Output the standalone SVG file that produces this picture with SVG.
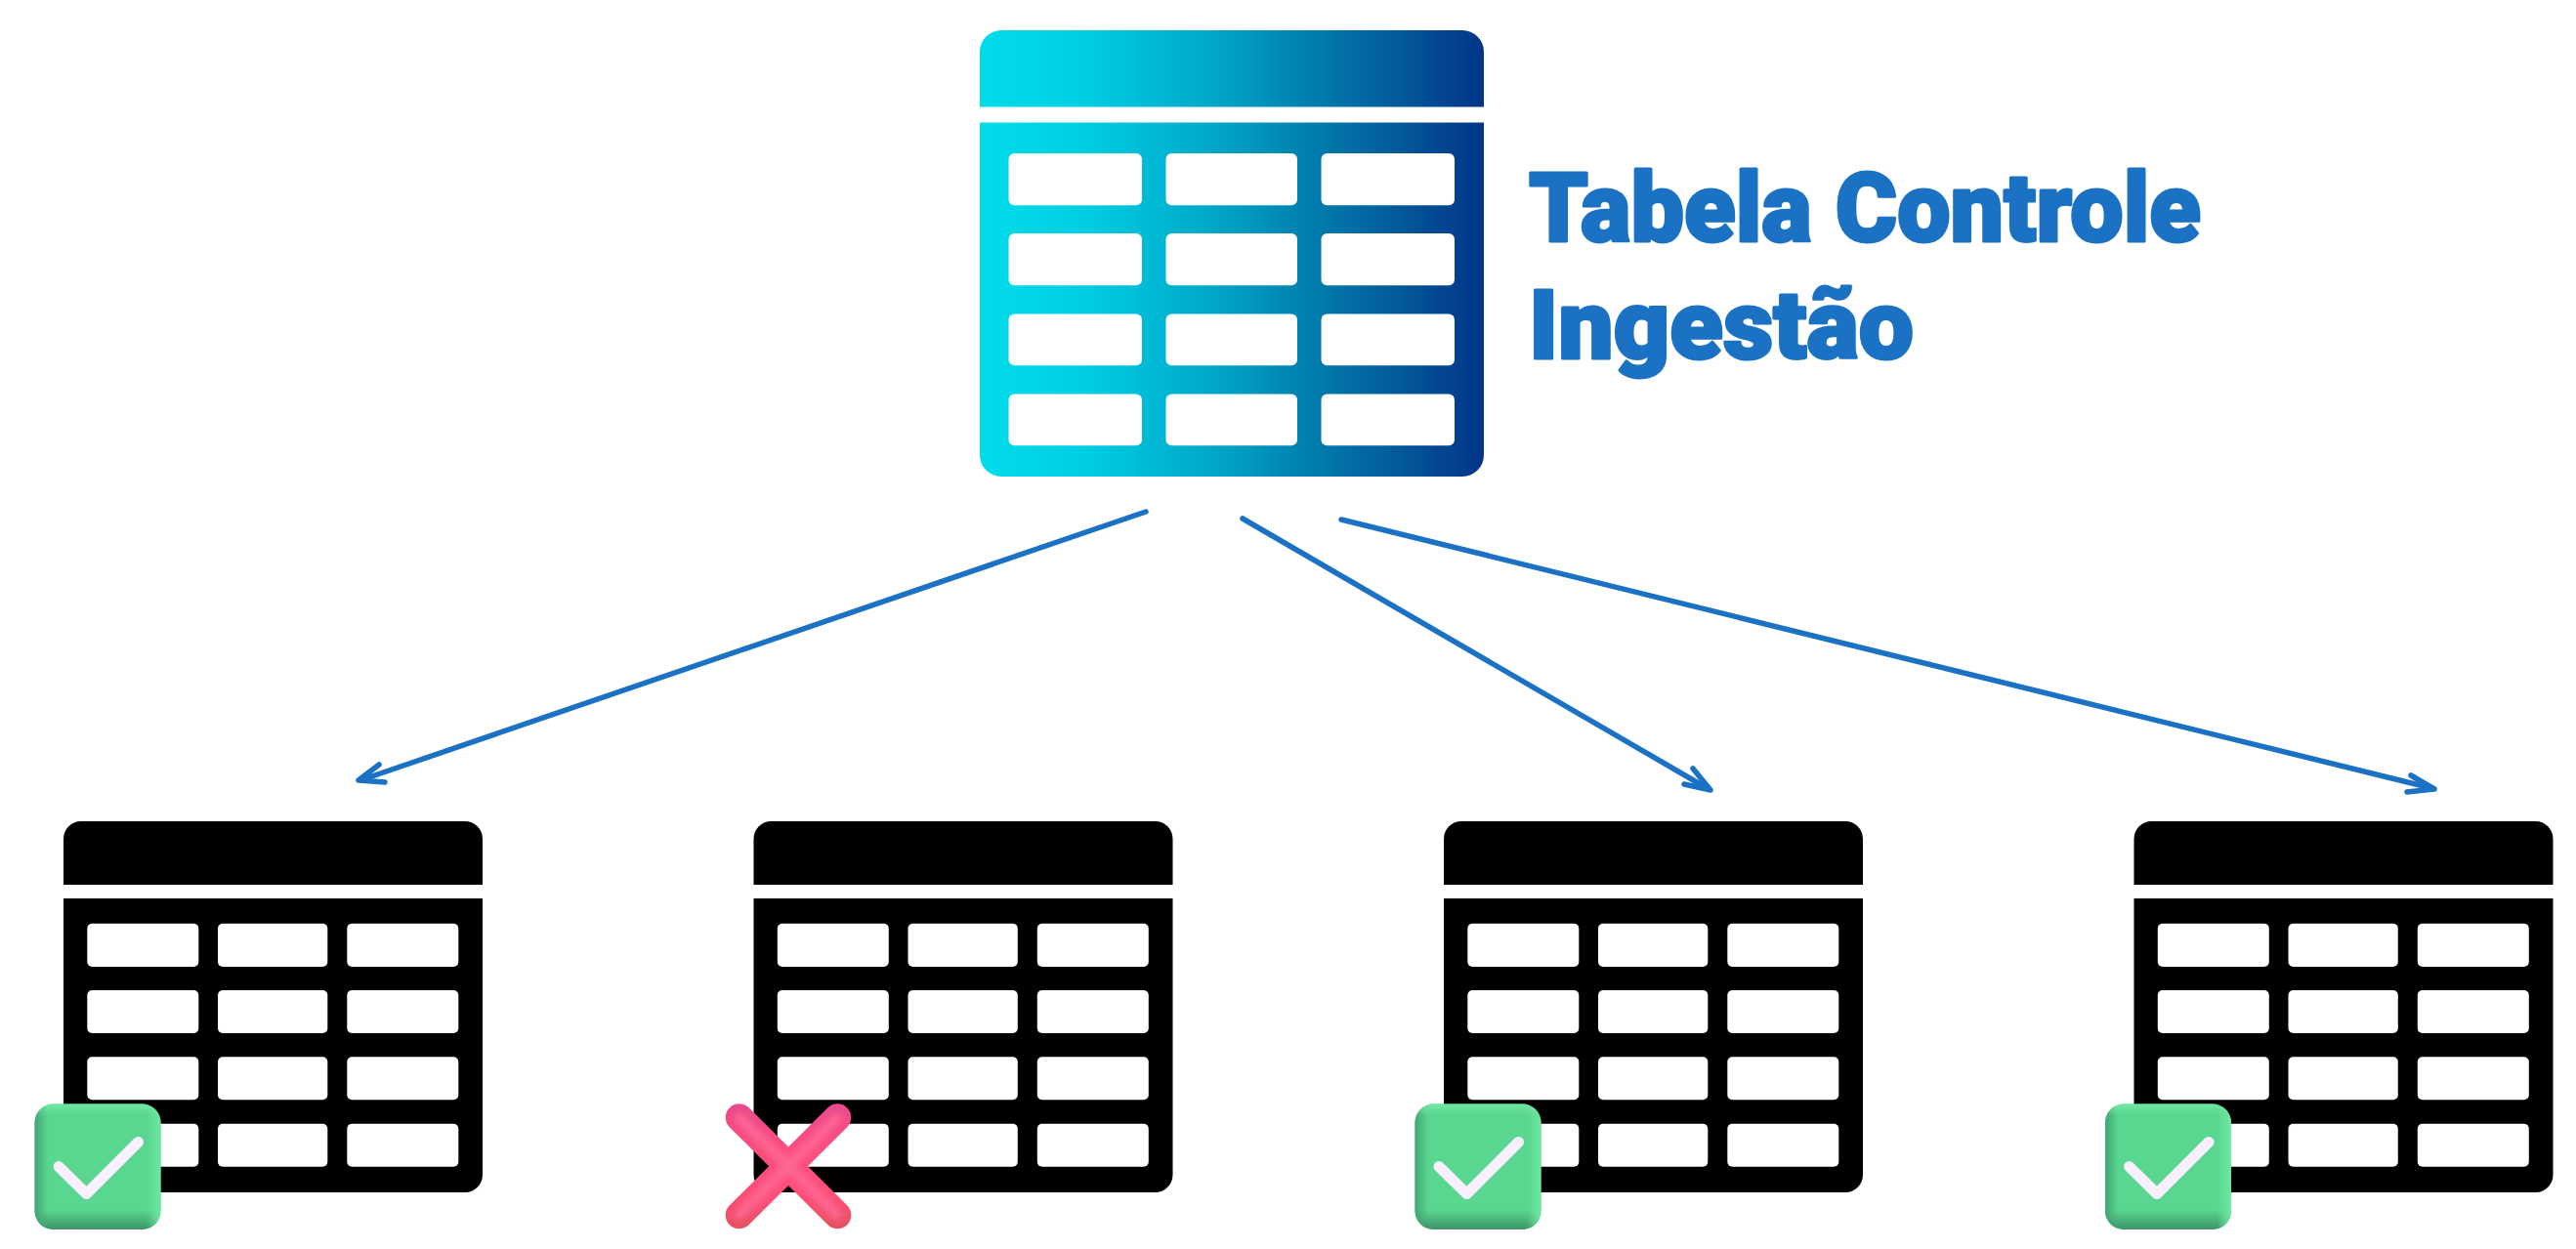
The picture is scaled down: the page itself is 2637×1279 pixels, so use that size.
<svg xmlns="http://www.w3.org/2000/svg" xmlns:xlink="http://www.w3.org/1999/xlink" width="2637" height="1279" viewBox="0 0 2637 1279">
<style>
.cell{fill:#fff}
.conn{fill:none;stroke:#1b72c4;stroke-width:5.5;stroke-linecap:round;stroke-linejoin:round}
.title{font-family:Roboto,"Liberation Sans",sans-serif;font-weight:900;font-size:99px;fill:#1b72c4;stroke:#1b72c4;stroke-width:3;stroke-linejoin:round}
</style>
<defs>
<linearGradient id="bigGrad" gradientUnits="userSpaceOnUse" x1="1003" y1="0" x2="1519" y2="0">
<stop offset="0" stop-color="#00dcea"/><stop offset="0.2" stop-color="#00cfe3"/><stop offset="0.45" stop-color="#00a9c9"/><stop offset="0.7" stop-color="#0075a8"/><stop offset="0.9" stop-color="#034a92"/><stop offset="1" stop-color="#033488"/>
</linearGradient>
<linearGradient id="shB" x1="0" y1="0" x2="0" y2="1"><stop offset="0" stop-color="#3d9468" stop-opacity="0"/><stop offset="1" stop-color="#3d9468"/></linearGradient>
<linearGradient id="shL" x1="1" y1="0" x2="0" y2="0"><stop offset="0" stop-color="#44a274" stop-opacity="0"/><stop offset="1" stop-color="#44a274"/></linearGradient>
<linearGradient id="shR" x1="0" y1="0" x2="1" y2="0"><stop offset="0" stop-color="#6fe8a2" stop-opacity="0"/><stop offset="1" stop-color="#6fe8a2"/></linearGradient>
<linearGradient id="shT" x1="0" y1="1" x2="0" y2="0"><stop offset="0" stop-color="#70e8a4" stop-opacity="0"/><stop offset="1" stop-color="#70e8a4"/></linearGradient>
<linearGradient id="crossGrad" gradientUnits="userSpaceOnUse" x1="0" y1="1130" x2="0" y2="1259">
<stop offset="0" stop-color="#e94a8e"/><stop offset="0.3" stop-color="#fb4d80"/><stop offset="0.75" stop-color="#fe4f78"/><stop offset="1" stop-color="#e4525f"/>
</linearGradient>
<filter id="soft" x="-30%" y="-30%" width="160%" height="160%"><feGaussianBlur stdDeviation="3.5"/></filter>
<clipPath id="badgeClip"><rect x="35.5" y="1130.5" width="129" height="128.5" rx="19"/></clipPath>
<g id="smallTable">
<path d="M65 906V859a18 18 0 0 1 18-18H476a18 18 0 0 1 18 18V906Z" fill="#000"/>
<path d="M65 920H494V1203a18 18 0 0 1-18 18H83a18 18 0 0 1-18-18Z" fill="#000"/>
<g class="cell">
<rect x="89.300" y="945.700" width="114" height="44.300" rx="5"/><rect x="223" y="945.700" width="112.300" height="44.300" rx="5"/><rect x="355.300" y="945.700" width="114" height="44.300" rx="5"/>
<rect x="89.300" y="1014" width="114" height="44" rx="5"/><rect x="223" y="1014" width="112.300" height="44" rx="5"/><rect x="355.300" y="1014" width="114" height="44" rx="5"/>
<rect x="89.300" y="1082.300" width="114" height="44" rx="5"/><rect x="223" y="1082.300" width="112.300" height="44" rx="5"/><rect x="355.300" y="1082.300" width="114" height="44" rx="5"/>
<rect x="89.300" y="1150.700" width="114" height="44" rx="5"/><rect x="223" y="1150.700" width="112.300" height="44" rx="5"/><rect x="355.300" y="1150.700" width="114" height="44" rx="5"/>
</g>
</g>
<g id="okBadge">
<rect x="35.500" y="1130.500" width="129" height="128.500" rx="19" fill="#59d68f"/>
<g clip-path="url(#badgeClip)">
<rect x="35" y="1239" width="130" height="20" fill="url(#shB)"/>
<rect x="35" y="1130" width="14" height="129" fill="url(#shL)"/>
<rect x="150" y="1130" width="15" height="129" fill="url(#shR)"/>
<rect x="35" y="1130" width="130" height="12" fill="url(#shT)"/>
</g>
<polyline points="60,1194.500 88.500,1222.500 141.500,1169.500" fill="none" stroke="#f8f0fc" stroke-width="11" stroke-linecap="round" stroke-linejoin="round"/>
</g>
</defs>
<rect width="2637" height="1279" fill="#fff"/>
<g id="connectors">
<g id="edge-1"><line class="conn" x1="1173" y1="524" x2="369" y2="799"/><path class="conn" d="M388 783L367 799L394 801"/></g>
<g id="edge-2"><line class="conn" x1="1272" y1="531" x2="1749" y2="808"/><path class="conn" d="M1733 787L1751 809L1724 803"/></g>
<g id="edge-3"><line class="conn" x1="1373" y1="532" x2="2489" y2="807"/><path class="conn" d="M2468 794L2492 808L2464 811"/></g>
</g>
<g id="node-control-table">
<path d="M1003 109.500V53a22 22 0 0 1 22-22H1497a22 22 0 0 1 22 22V109.500Z" fill="url(#bigGrad)"/>
<path d="M1003 125.500H1519V466a22 22 0 0 1-22 22H1025a22 22 0 0 1-22-22Z" fill="url(#bigGrad)"/>
<g class="cell">
<rect x="1032.500" y="157" width="136.500" height="53.300" rx="6"/><rect x="1193.500" y="157" width="134.500" height="53.300" rx="6"/><rect x="1352.500" y="157" width="136.500" height="53.300" rx="6"/>
<rect x="1032.500" y="239" width="136.500" height="53.300" rx="6"/><rect x="1193.500" y="239" width="134.500" height="53.300" rx="6"/><rect x="1352.500" y="239" width="136.500" height="53.300" rx="6"/>
<rect x="1032.500" y="321.500" width="136.500" height="52.700" rx="6"/><rect x="1193.500" y="321.500" width="134.500" height="52.700" rx="6"/><rect x="1352.500" y="321.500" width="136.500" height="52.700" rx="6"/>
<rect x="1032.500" y="403.500" width="136.500" height="52.700" rx="6"/><rect x="1193.500" y="403.500" width="134.500" height="52.700" rx="6"/><rect x="1352.500" y="403.500" width="136.500" height="52.700" rx="6"/>
</g>
<text class="title" x="1565" y="246.500" textLength="688" lengthAdjust="spacingAndGlyphs">Tabela Controle</text>
<text class="title" x="1565" y="366.500" textLength="394" lengthAdjust="spacingAndGlyphs">Ingestão</text>
</g>
<g id="node-table-1"><use xlink:href="#smallTable" href="#smallTable"/><use href="#okBadge"/></g>
<g id="node-table-2"><use href="#smallTable" x="706.500"/>
<g fill="none" stroke-linecap="round">
<path d="M756.700 1144.300L857.300 1244.300M857.300 1144.300L756.700 1244.300" stroke="url(#crossGrad)" stroke-width="28"/>
<path d="M756.700 1144.300L857.300 1244.300M857.300 1144.300L756.700 1244.300" stroke="#ff6f9c" stroke-width="9" filter="url(#soft)" opacity="0.8"/>
</g></g>
<g id="node-table-3"><use href="#smallTable" x="1413"/><use href="#okBadge" x="1413"/></g>
<g id="node-table-4"><use href="#smallTable" x="2119.500"/><use href="#okBadge" x="2119.500"/></g>
</svg>
